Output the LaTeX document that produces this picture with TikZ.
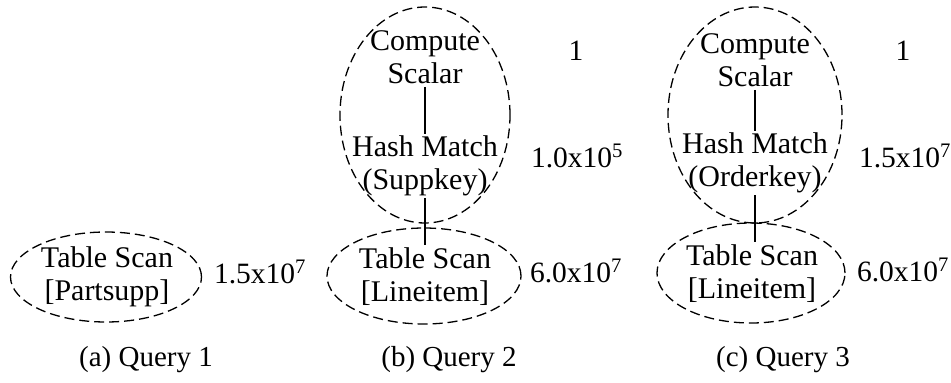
\documentclass[tikz,border=0pt]{standalone}
\usepackage{fontspec}
\setmainfont{Liberation Serif}
\usetikzlibrary{shapes.geometric}
\begin{document}
\begin{tikzpicture}[x=1pt,y=-1pt,
  op/.style={align=center,inner sep=0pt,font=\fontsize{30}{33}\selectfont},
  card/.style={anchor=base,inner sep=0pt,font=\fontsize{29.5}{33}\selectfont},
  caption/.style={anchor=base,inner sep=0pt,font=\fontsize{29}{33}\selectfont},
  group/.style={ellipse,draw,dash pattern=on 10pt off 5pt,line width=1.3pt,inner sep=0pt},
  link/.style={line width=2.4pt}]
\useasboundingbox (0,0) rectangle (951,383);

% (a) Query 1
\node[group,minimum width=191pt,minimum height=90pt] (g1) at (106,277) {};
\node[op] (ts1) at (107,277) {Table Scan\\{}[Partsupp]};
\node[card] (c1) at (260,283) {1.5x10\textsuperscript{7}};
\node[caption] (cap1) at (146,366) {(a) Query 1};

% (b) Query 2
\node[group,minimum width=170pt,minimum height=216pt] (g2a) at (425,115) {};
\node[group,minimum width=194pt,minimum height=96pt] (g2b) at (424,276) {};
\node[op] (cs2) at (425,57) {Compute\\Scalar};
\node[op] (hm2) at (425,166) {Hash Match\\(Suppkey)};
\node[op] (ts2) at (425,277) {Table Scan\\{}[Lineitem]};
\draw[link] ([yshift=-3pt]cs2.south) -- ([yshift=2pt]hm2.north);
\draw[link] ([yshift=-2pt]hm2.south) -- ([yshift=3pt]ts2.north);
\node[card] (n2a) at (576,60) {1};
\node[card] (n2b) at (577,167) {1.0x10\textsuperscript{5}};
\node[card] (n2c) at (576,282) {6.0x10\textsuperscript{7}};
\node[caption] (cap2) at (449,366) {(b) Query 2};

% (c) Query 3
\node[group,minimum width=174pt,minimum height=216pt] (g3a) at (755,115) {};
\node[group,minimum width=188pt,minimum height=100pt] (g3b) at (751,273) {};
\node[op] (cs3) at (755,60) {Compute\\Scalar};
\node[op] (hm3) at (755,163) {Hash Match\\(Orderkey)};
\node[op] (ts3) at (752,274) {Table Scan\\{}[Lineitem]};
\draw[link] ([yshift=-3pt]cs3.south) -- ([yshift=2pt]hm3.north);
\draw[link] ([yshift=-2pt]hm3.south) -- ([yshift=3pt]ts3.north -| hm3.south);
\node[card] (n3a) at (903,60) {1};
\node[card] (n3b) at (905,167) {1.5x10\textsuperscript{7}};
\node[card] (n3c) at (903,281) {6.0x10\textsuperscript{7}};
\node[caption] (cap3) at (783,366) {(c) Query 3};
\end{tikzpicture}
\end{document}
